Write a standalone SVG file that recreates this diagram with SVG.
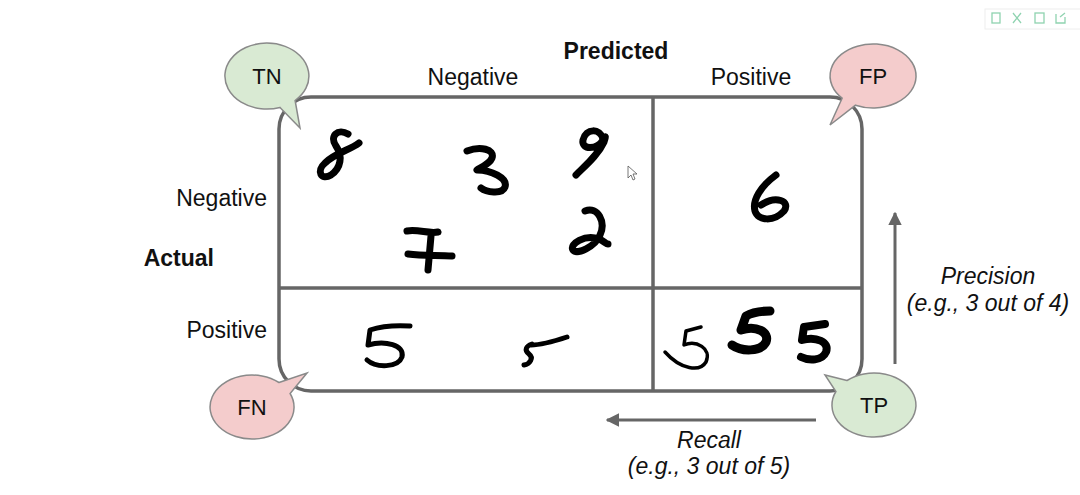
<svg xmlns="http://www.w3.org/2000/svg" width="1080" height="495" viewBox="0 0 1080 495">
<style>
.t{font-family:"Liberation Sans",Arial,sans-serif;font-size:23px;fill:#111}
.b{font-weight:bold}
.i{font-style:italic}
.m{text-anchor:middle}
.e{text-anchor:end}
.bub{stroke:#8a8a8a;stroke-width:1.5}
.g{fill:#d9ead3}
.p{fill:#f4cccc}
.bt{font-family:"Liberation Sans",Arial,sans-serif;font-size:22px;fill:#111;text-anchor:middle}
.d{fill:none;stroke:#000;stroke-linecap:round;stroke-linejoin:round;stroke-width:7}
.frame{fill:none;stroke:#666;stroke-width:3.5}
.arr{stroke:#666;stroke-width:3;fill:none}
.tb{fill:none;stroke:#8fd3b0;stroke-width:1.3}
</style>
<defs>
<marker id="ah" viewBox="0 0 10 10" refX="9" refY="5" markerWidth="4.5" markerHeight="4.5" orient="auto">
<path d="M0,0 L10,5 L0,10 Z" fill="#666"/>
</marker>
</defs>
<rect width="1080" height="495" fill="#fff"/>

<g id="toolbar">
<rect x="985" y="9" width="100" height="20" fill="#fff" stroke="#eee"/>
<rect x="992" y="13" width="8" height="10" class="tb"/>
<path d="M1013 13 L1021 23 M1021 13 L1013 23" class="tb"/>
<rect x="1035" y="13" width="9" height="10" class="tb"/>
<path d="M1056 14 L1056 23 L1065 23 L1065 17 M1060 17 L1065 13" class="tb"/>
</g>

<g id="matrix">
<rect x="279" y="97" width="583" height="294" rx="32" ry="32" class="frame"/>
<line x1="653" y1="97" x2="653" y2="391" class="frame"/>
<line x1="279" y1="288" x2="862" y2="288" class="frame"/>
</g>

<g id="labels">
<text x="616" y="59" class="t b m">Predicted</text>
<text x="473" y="85" class="t m">Negative</text>
<text x="751" y="85" class="t m">Positive</text>
<text x="267" y="206" class="t e">Negative</text>
<text x="214" y="266" class="t b e">Actual</text>
<text x="267" y="338" class="t e">Positive</text>
</g>

<g id="digits-tn">
<path class="d" d="M348 134 C338 128,329 136,336 146 C343 156,341 168,331 175 C321 181,316 171,325 163 C335 153,350 150,359 143"/>
<path class="d" d="M467 151 C480 146,495 149,492 158 C489 165,479 168,477 170 C491 170,508 178,505 187 C502 195,486 192,481 188"/>
<path class="d" d="M603 139 C600 128,586 128,583 140 C581 150,597 150,603 140 C606 135,606 136,604 142 C598 155,586 165,576 175"/>
<path class="d" d="M407 231 C418 229,429 234,438 232 M431 236 L428 270 M408 254 C423 256,438 255,452 256"/>
<path class="d" d="M585 211 C598 206,606 222,600 235 C595 247,577 255,573 250 C569 244,585 234,599 239 C604 241,606 244,608 244"/>
</g>
<g id="digits-fp">
<path class="d" d="M776 175 C761 186,752 200,755 211 C758 221,774 222,784 211 C791 201,776 195,761 205"/>
</g>
<g id="digits-fn">
<path class="d" style="stroke-width:5" d="M410 326 C395 325,379 327,370 330 L368 345 C385 340,405 345,402 357 C398 368,376 368,367 360"/>
<path class="d" style="stroke-width:5" d="M567 337 C555 341,541 345,531 345 M532 344 C526 346,524 350,529 354 C534 358,530 364,524 365"/>
</g>
<g id="digits-tp">
<path class="d" style="stroke-width:3.5" d="M701 327 L686 331 L684 345 C696 340,712 348,706 362 C700 372,681 370,665 352"/>
<path class="d" style="stroke-width:9" d="M770 311 C760 311,751 313,746 316 L741 330 C756 325,770 332,766 342 C761 352,742 352,732 345"/>
<path class="d" style="stroke-width:8" d="M825 324 L804 327 L802 340 C816 336,830 342,826 352 C822 361,809 361,801 357"/>
</g>

<g id="cursor">
<path d="M628 166 L628 178 L631 175 L633 180 L635 179 L633 174 L637 174 Z" fill="#fff" stroke="#555" stroke-width="0.8"/>
</g>

<g id="connectors">
<line x1="816" y1="420" x2="607" y2="420" class="arr" marker-end="url(#ah)"/>
<line x1="895" y1="364" x2="895" y2="213" class="arr" marker-end="url(#ah)"/>
</g>

<g id="recall">
<text x="709" y="448" class="t i m">Recall</text>
<text x="709" y="474" class="t i m">(e.g., 3 out of 5)</text>
</g>
<g id="precision">
<text x="988" y="284" class="t i m">Precision</text>
<text x="988" y="311" class="t i m">(e.g., 3 out of 4)</text>
</g>

<g id="TN">
<path class="bub g" d="M280 107.4 L300 128 L295.1 100.5 A42 33 0 1 0 280 107.4 Z"/>
<text x="267" y="84" class="bt">TN</text>
</g>
<g id="FP">
<path class="bub p" d="M842.1 98.2 L830 125 L855.5 105.2 A43 32 0 1 0 842.1 98.2 Z"/>
<text x="873" y="84" class="bt">FP</text>
</g>
<g id="FN">
<path class="bub p" d="M279 382.5 L307 373 L290.1 393.5 A42 32 0 1 1 279 382.5 Z"/>
<text x="252" y="415" class="bt">FN</text>
</g>
<g id="TP">
<path class="bub g" d="M847 380.5 L825 375 L835.9 391.5 A42 32 0 1 0 847 380.5 Z"/>
<text x="874" y="413" class="bt">TP</text>
</g>
</svg>
